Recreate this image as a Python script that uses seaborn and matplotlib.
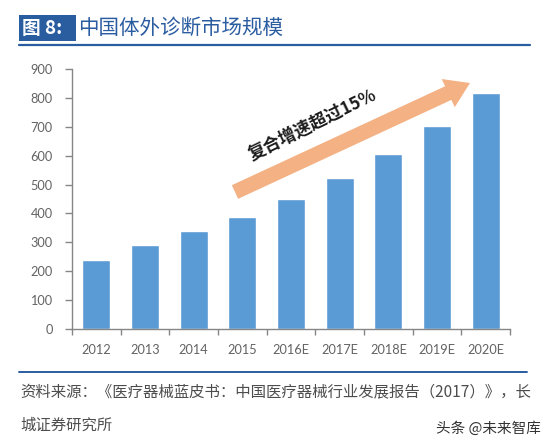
"""中国体外诊断市场规模 bar chart"""

import matplotlib
matplotlib.use('Agg')
import matplotlib.pyplot as plt
import numpy as np
import pandas as pd
import seaborn as sns
from matplotlib.patches import FancyArrow, Rectangle
from matplotlib.lines import Line2D

years = ['2012', '2013', '2014', '2015', '2016E', '2017E', '2018E', '2019E', '2020E']
market_size = [239, 291, 339, 388, 450, 523, 606, 703, 817]
y_ticks = [0, 100, 200, 300, 400, 500, 600, 700, 800, 900]

W, H = 550, 441
BLUE = '#2A5CA0'
GREY = '#636363'
CJK = ['Noto Sans CJK SC', 'DejaVu Sans']


def fx(px):
    return px / W


def fy(px):
    return 1 - px / H


sns.set_theme(style='white')
plt.rcParams['font.family'] = CJK

fig = plt.figure(figsize=(W / 100, H / 100), dpi=100, facecolor='white')
ax = fig.add_axes([fx(72), fy(329), fx(510) - fx(72), fy(69) - fy(329)])

df = pd.DataFrame({'year': years, 'size': market_size})
sns.barplot(data=df, x='year', y='size', color='#5B9BD5', saturation=1, width=0.575, ax=ax)

ax.set_xlim(-0.5, len(years) - 0.5)
ax.set_ylim(0, 900)
ax.set_yticks(y_ticks)
ax.set_xlabel('')
ax.set_ylabel('')
ax.set_xticks(np.arange(len(years) + 1) - 0.5, minor=True)
ax.tick_params(axis='x', which='major', length=0, pad=11, labelsize=9.2, labelcolor=GREY)
ax.tick_params(axis='x', which='minor', length=4, width=1, color='#868686', bottom=True)
ax.tick_params(axis='y', length=5, width=1, color='#868686', left=True, pad=9, labelsize=9.2, labelcolor=GREY)
for lab in ax.get_xticklabels() + ax.get_yticklabels():
    lab.set_fontfamily('Lato')
for side in ['top', 'right']:
    ax.spines[side].set_visible(False)
for side in ['left', 'bottom']:
    ax.spines[side].set_color('#868686')
    ax.spines[side].set_linewidth(1)

# 标题栏
fig.add_artist(Rectangle((fx(19), fy(41)), fx(57), fy(15) - fy(41), transform=fig.transFigure,
                         facecolor=BLUE, edgecolor='none'))
fig.text(fx(22), fy(28), '图 8:', color='white', fontsize=13.5, fontweight='bold', va='center', ha='left')
fig.text(fx(78), fy(28), '中国体外诊断市场规模', color=BLUE, fontsize=14.8, va='center', ha='left')
fig.add_artist(Line2D([fx(19), fx(530)], [fy(45), fy(45)], color=BLUE, lw=1.6, transform=fig.transFigure))

# 增速箭头
fig.add_artist(FancyArrow(235, H - 192, 235, 109, width=15, head_width=31, head_length=24,
                          length_includes_head=True, facecolor='#F4B183', edgecolor='none',
                          transform=None))
fig.text(fx(312), fy(125), '复合增速超过15%', color='#1A1A1A', fontsize=12.4, fontweight='bold',
         rotation=26, rotation_mode='anchor', ha='center', va='center')

# 资料来源
fig.add_artist(Line2D([fx(19), fx(527)], [fy(372), fy(372)], color=BLUE, lw=1.4, transform=fig.transFigure))
fig.text(fx(20), fy(392), '资料来源：《医疗器械蓝皮书：中国医疗器械行业发展报告（2017）》，长',
         color='#4D4D4D', fontsize=11.1, style='italic', va='center', ha='left')
fig.text(fx(20), fy(425), '城证券研究所', color='#4D4D4D', fontsize=11.1, style='italic', va='center', ha='left')
fig.text(fx(541), fy(429), '头条 @未来智库', color='#333333', fontsize=10.5, va='center', ha='right')

fig.savefig('out.png', dpi=100)
